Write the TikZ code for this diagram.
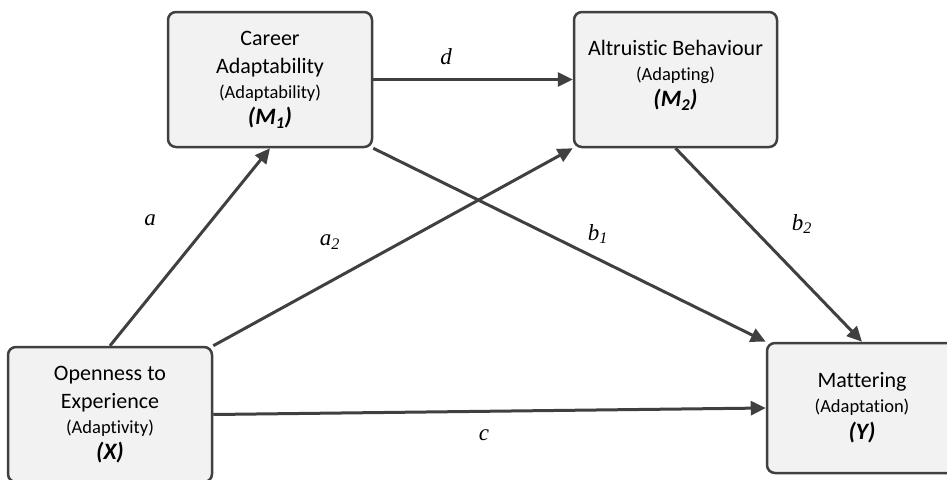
\documentclass[tikz,border=0pt]{standalone}
\usepackage{fontspec}
\setmainfont{Carlito}[Ligatures=NoCommon]
\newfontfamily\lblfont{Liberation Serif}
\usepackage{xcolor}
\usetikzlibrary{arrows.meta}

\definecolor{boxgray}{HTML}{F2F2F2}
\definecolor{linegray}{HTML}{404040}

\newcommand{\subname}[1]{{\fontsize{18.5}{22}\selectfont #1}}
\newcommand{\varname}[1]{{\fontsize{23.5}{26}\selectfont\bfseries\itshape #1}}

\begin{document}
\begin{tikzpicture}[x=1pt, y=-1pt,
  box/.style={draw=linegray, line width=2.5pt, fill=boxgray, rounded corners=8pt,
              minimum width=204pt, minimum height=135pt, inner sep=0pt, align=center,
              font=\fontsize{22}{28}\selectfont},
  arr/.style={-{Triangle[length=15pt,width=14pt]}, line width=3pt, draw=linegray},
  lbl/.style={font=\fontsize{23}{26}\selectfont\lblfont\itshape}
]
  \useasboundingbox (0,0) rectangle (947,479);
  \clip (0,0) rectangle (947,479);

  % Nodes
  \node[box] (mone) at (270,79.5)
    {Career\\Adaptability\\[-3pt]\subname{(Adaptability)}\\[-2pt]\varname{(M\textsubscript{1})}};
  \node[box, minimum width=203pt] (mtwo) at (675.5,79.5)
    {Altruistic Behaviour\\[-3pt]\subname{(Adapting)}\\[-2pt]\varname{(M\textsubscript{2})}\rule[-12pt]{0pt}{0pt}};
  \node[box] (xvar) at (110,414.5)
    {Openness to\\Experience\\[-3pt]\subname{(Adaptivity)}\\[-2pt]\varname{(X)}};
  \node[box, minimum width=190pt, minimum height=130pt] (yvar) at (862,408)
    {Mattering\\[-3pt]\subname{(Adaptation)}\\[-1pt]\varname{(Y)}};

  % Paths
  \draw[arr] (xvar.north) -- (mone.south);
  \draw[arr] (xvar.north east) -- (mtwo.south west);
  \draw[arr] (mone.east) -- (mtwo.west);
  \draw[arr] (mone.south east) -- (yvar.north west);
  \draw[arr] (mtwo.south) -- (yvar.north);
  \draw[arr] (xvar.east) -- (yvar.west);

  % Path labels
  \node[lbl] (la)  at (150,220) {a};
  \node[lbl] (latwo) at (330,242) {a\textsubscript{2}};
  \node[lbl] (ld)  at (446,57)  {d};
  \node[lbl] (lbone) at (598,234) {b\textsubscript{1}};
  \node[lbl] (lbtwo) at (802,224) {b\textsubscript{2}};
  \node[lbl] (lc)  at (484,435) {c};
\end{tikzpicture}
\end{document}
